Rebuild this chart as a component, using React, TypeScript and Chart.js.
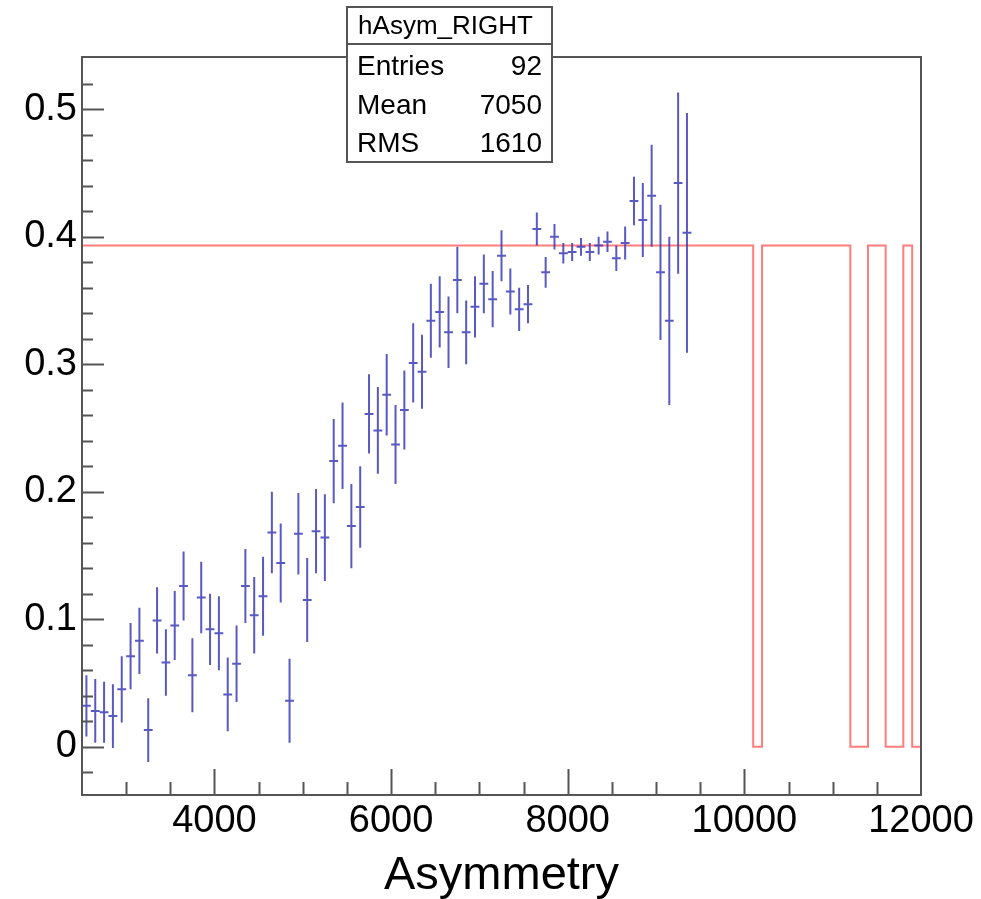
import React, { useEffect, useRef } from 'react';
import { Chart, registerables } from 'chart.js';

Chart.register(...registerables);

// ---- data ----
const binCenters = [
  2550, 2650, 2750, 2850, 2950, 3050, 3150, 3250, 3350, 3450,
  3550, 3650, 3750, 3850, 3950, 4050, 4150, 4250, 4350, 4450,
  4550, 4650, 4750, 4850, 4950, 5050, 5150, 5250, 5350, 5450,
  5550, 5650, 5750, 5850, 5950, 6050, 6150, 6250, 6350, 6450,
  6550, 6650, 6750, 6850, 6950, 7050, 7150, 7250, 7350, 7450,
  7550, 7650, 7750, 7850, 7950, 8050, 8150, 8250, 8350, 8450,
  8550, 8650, 8750, 8850, 8950, 9050, 9150, 9250, 9350,
];
const asymValues = [
  0.032, 0.028, 0.027, 0.024, 0.045, 0.071, 0.083, 0.013, 0.099, 0.066,
  0.095, 0.126, 0.056, 0.117, 0.092, 0.089, 0.041, 0.065, 0.126, 0.103,
  0.118, 0.168, 0.144, 0.036, 0.167, 0.115, 0.169, 0.164, 0.224, 0.236,
  0.173, 0.188, 0.261, 0.248, 0.276, 0.237, 0.264, 0.301, 0.294, 0.334,
  0.341, 0.325, 0.366, 0.325, 0.345, 0.363, 0.351, 0.385, 0.357, 0.343,
  0.347, 0.406, 0.372, 0.400, 0.387, 0.388, 0.392, 0.388, 0.393, 0.396,
  0.383, 0.395, 0.428, 0.413, 0.432, 0.372, 0.334, 0.442, 0.403,
];
const asymErrors = [
  0.024, 0.025, 0.024, 0.025, 0.026, 0.026, 0.026, 0.025, 0.026, 0.026,
  0.027, 0.027, 0.029, 0.028, 0.028, 0.029, 0.029, 0.030, 0.029, 0.030,
  0.031, 0.032, 0.031, 0.033, 0.032, 0.033, 0.033, 0.034, 0.033, 0.034,
  0.033, 0.032, 0.031, 0.034, 0.032, 0.031, 0.031, 0.031, 0.029, 0.029,
  0.028, 0.028, 0.026, 0.025, 0.024, 0.023, 0.022, 0.020, 0.018, 0.017,
  0.015, 0.013, 0.012, 0.010, 0.008, 0.007, 0.007, 0.007, 0.007, 0.008,
  0.010, 0.013, 0.019, 0.029, 0.040, 0.053, 0.066, 0.071, 0.094,
];
const binWidth = 100;

const fitEdges = [2500, 10100, 10200, 11200, 11400, 11600, 11800, 11900, 12000];
const fitLevels = [0.393, 0, 0.393, 0, 0.393, 0, 0.393, 0];

const xTickValues = [4000, 6000, 8000, 10000, 12000];
const yTickValues = [0, 0.1, 0.2, 0.3, 0.4, 0.5];
const xMinorStep = 500;
const yMinorStep = 0.02;

const statsTitle = 'hAsym_RIGHT';
const statsLabels = ['Entries', 'Mean', 'RMS'];
const statsValues = ['92', '7050', '1610'];
const xTitle = 'Asymmetry';

const FONT = '"Liberation Sans", Arial, Helvetica, sans-serif';

const rootPlugin = {
  id: 'rootStyle',
  afterDatasetsDraw(chart: any) {
    const { ctx, scales } = chart;
    const x = scales.x;
    const y = scales.y;
    ctx.save();
    ctx.strokeStyle = 'rgba(60,60,185,0.85)';
    ctx.lineWidth = 2;
    ctx.beginPath();
    binCenters.forEach((c, i) => {
      const px = x.getPixelForValue(c);
      const py = y.getPixelForValue(asymValues[i]);
      const top = y.getPixelForValue(asymValues[i] + asymErrors[i]);
      const bot = y.getPixelForValue(asymValues[i] - asymErrors[i]);
      ctx.moveTo(px, top);
      ctx.lineTo(px, bot);
      ctx.moveTo(x.getPixelForValue(c - binWidth / 2), py);
      ctx.lineTo(x.getPixelForValue(c + binWidth / 2), py);
    });
    ctx.stroke();
    ctx.restore();
  },
  afterDraw(chart: any) {
    const { ctx, chartArea: a, scales } = chart;
    const x = scales.x;
    const y = scales.y;
    ctx.save();
    ctx.strokeStyle = '#555';
    ctx.lineWidth = 2;
    ctx.strokeRect(a.left, a.top, a.right - a.left, a.bottom - a.top);

    ctx.beginPath();
    // y ticks
    const ky0 = Math.ceil(y.min / yMinorStep);
    const ky1 = Math.floor(y.max / yMinorStep);
    for (let k = ky0; k <= ky1; k++) {
      const v = k * yMinorStep;
      const py = Math.round(y.getPixelForValue(v)) + 0.5;
      if (py < a.top + 4 || py > a.bottom - 4) continue;
      const len = k % 5 === 0 ? 22 : 11;
      ctx.moveTo(a.left, py);
      ctx.lineTo(a.left + len, py);
    }
    // x ticks
    const kx0 = Math.ceil(x.min / xMinorStep);
    const kx1 = Math.floor(x.max / xMinorStep);
    for (let k = kx0; k <= kx1; k++) {
      const v = k * xMinorStep;
      const px = Math.round(x.getPixelForValue(v)) + 0.5;
      if (px < a.left + 4 || px > a.right - 4) continue;
      const len = v % 2000 === 0 ? 26 : 13;
      ctx.moveTo(px, a.bottom);
      ctx.lineTo(px, a.bottom - len);
    }
    ctx.stroke();

    // stats box
    const bx = 347, by = 7, bw = 205, bh = 155;
    ctx.fillStyle = '#fff';
    ctx.fillRect(bx, by, bw, bh);
    ctx.strokeStyle = '#555';
    ctx.lineWidth = 2;
    ctx.strokeRect(bx, by, bw, bh);
    ctx.beginPath();
    ctx.moveTo(bx, 44);
    ctx.lineTo(bx + bw, 44);
    ctx.stroke();

    ctx.fillStyle = '#000';
    ctx.textBaseline = 'alphabetic';
    ctx.font = `26px ${FONT}`;
    ctx.textAlign = 'center';
    ctx.fillText(statsTitle, bx + bw / 2 - 4, 34);
    ctx.font = `28px ${FONT}`;
    const rowBase = [75, 114, 152];
    statsLabels.forEach((lab, i) => {
      ctx.textAlign = 'left';
      ctx.fillText(lab, 357, rowBase[i]);
      ctx.textAlign = 'right';
      ctx.fillText(statsValues[i], 542, rowBase[i]);
    });
    ctx.restore();
  },
};

export default function App() {
  const ref = useRef<HTMLCanvasElement | null>(null);

  useEffect(() => {
    document.body.style.margin = '0';
    const canvas = ref.current;
    if (!canvas) return;

    const fitLine: { x: number; y: number }[] = [];
    fitLevels.forEach((lv, i) => {
      fitLine.push({ x: fitEdges[i], y: lv });
      fitLine.push({ x: fitEdges[i + 1], y: lv });
    });

    const chart = new Chart(canvas, {
      type: 'scatter',
      data: {
        datasets: [
          {
            label: 'fit',
            data: fitLine,
            showLine: true,
            borderColor: 'rgba(255,70,70,0.7)',
            borderWidth: 2,
            pointRadius: 0,
            tension: 0,
            clip: 4,
          } as any,
          {
            label: statsTitle,
            data: binCenters.map((c, i) => ({ x: c, y: asymValues[i] })),
            pointRadius: 0,
            showLine: false,
          } as any,
        ],
      },
      options: {
        animation: false,
        responsive: false,
        layout: { padding: { left: 0, top: 57, right: 60, bottom: 0 } },
        plugins: {
          legend: { display: false },
          tooltip: { enabled: false },
        },
        scales: {
          x: {
            type: 'linear',
            min: 2500,
            max: 12000,
            grid: { display: false, drawTicks: false },
            border: { display: false },
            afterBuildTicks: (s: any) => {
              s.ticks = xTickValues.map((v) => ({ value: v }));
            },
            afterFit: (s: any) => {
              s.height = 104;
            },
            ticks: {
              autoSkip: false,
              maxRotation: 0,
              padding: 4,
              color: '#000',
              font: { family: FONT, size: 38 },
              callback: (v: any) => String(v),
            },
            title: {
              display: true,
              text: xTitle,
              color: '#000',
              font: { family: FONT, size: 47, lineHeight: 1 },
              padding: { top: 0, bottom: -1 },
            },
          },
          y: {
            type: 'linear',
            min: -0.0379,
            max: 0.5409,
            grid: { display: false, drawTicks: false },
            border: { display: false },
            afterBuildTicks: (s: any) => {
              s.ticks = yTickValues.map((v) => ({ value: v }));
            },
            afterFit: (s: any) => {
              s.width = 82;
            },
            ticks: {
              autoSkip: false,
              padding: 5,
              color: '#000',
              font: { family: FONT, size: 38 },
              callback: (v: any) => (Number(v) === 0 ? '0' : Number(v).toFixed(1)),
            },
          },
        },
      },
      plugins: [rootPlugin],
    });

    return () => chart.destroy();
  }, []);

  return (
    <canvas
      ref={ref}
      width={981}
      height={899}
      style={{ display: 'block', width: 981, height: 899 }}
    />
  );
}
